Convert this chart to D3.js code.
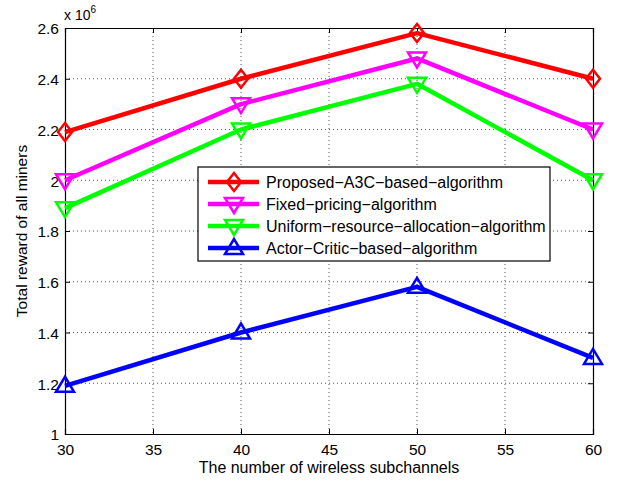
<!DOCTYPE html>
<html>
<head>
<meta charset="utf-8">
<script src="https://cdn.jsdelivr.net/npm/d3@7"></script>
<style>
  body { margin: 0; background: #fff; }
  svg { font-family: "Liberation Sans", Arial, sans-serif; }
</style>
</head>
<body>
<svg id="chart" width="618" height="483"></svg>
<script>
// data (reward in units of 1e6)
const channels = [30, 40, 50, 60];
const proposedA3C = [2.19, 2.40, 2.58, 2.40];
const fixedPricing = [2.00, 2.30, 2.48, 2.20];
const uniformAlloc = [1.89, 2.20, 2.38, 2.00];
const actorCritic = [1.19, 1.40, 1.58, 1.30];
const seriesNames = [
  "Proposed\u2212A3C\u2212based\u2212algorithm",
  "Fixed\u2212pricing\u2212algorithm",
  "Uniform\u2212resource\u2212allocation\u2212algorithm",
  "Actor\u2212Critic\u2212based\u2212algorithm"
];
const xTicks = [30, 35, 40, 45, 50, 55, 60];
const yTicks = [1, 1.2, 1.4, 1.6, 1.8, 2, 2.2, 2.4, 2.6];

const margin = {top: 28, right: 25, bottom: 49, left: 65};
const width = 618 - margin.left - margin.right;
const height = 483 - margin.top - margin.bottom;

const svg = d3.select("#chart");
const g = svg.append("g")
  .attr("transform", "translate(" + margin.left + "," + margin.top + ")");

const x = d3.scaleLinear().domain([30, 60]).range([0, width]);
const y = d3.scaleLinear().domain([1, 2.6]).range([height, 0]);

// grid
g.append("g").selectAll("line").data(xTicks.slice(1, -1)).enter().append("line")
  .attr("x1", d => x(d)).attr("x2", d => x(d))
  .attr("y1", 0).attr("y2", height)
  .attr("stroke", "#555").attr("stroke-width", 1).attr("stroke-dasharray", "1,3");
g.append("g").selectAll("line").data(yTicks.slice(1, -1)).enter().append("line")
  .attr("y1", d => y(d)).attr("y2", d => y(d))
  .attr("x1", 0).attr("x2", width)
  .attr("stroke", "#555").attr("stroke-width", 1).attr("stroke-dasharray", "1,3");

// axes, ticks pointing inward
const fmtY = d => String(+d.toFixed(1));
const xAxis = g.append("g").attr("transform", "translate(0," + height + ")")
  .call(d3.axisBottom(x).tickValues(xTicks).tickSize(-5).tickPadding(10));
const xTop = g.append("g")
  .call(d3.axisTop(x).tickValues(xTicks).tickSize(-5).tickFormat(""));
const yAxis = g.append("g")
  .call(d3.axisLeft(y).tickValues(yTicks).tickSize(-5).tickPadding(6).tickFormat(fmtY));
const yRight = g.append("g").attr("transform", "translate(" + width + ",0)")
  .call(d3.axisRight(y).tickValues(yTicks).tickSize(-5).tickFormat(""));

[xAxis, xTop, yAxis, yRight].forEach(a => {
  a.select(".domain").attr("stroke", "#000").attr("stroke-width", 1.2);
  a.selectAll(".tick line").attr("stroke", "#000");
  a.selectAll("text").attr("font-size", 15.5).attr("fill", "#000")
    .attr("font-family", "Liberation Sans, Arial, sans-serif");
});
yAxis.selectAll("text").attr("dy", "0.38em");

// exponent label
g.append("text").attr("x", -1).attr("y", -8)
  .attr("font-size", 14).text("x 10")
  .append("tspan").attr("dy", -7).attr("font-size", 10).text("6");

// series
const series = [
  {values: proposedA3C, color: "#ff0000", marker: "diamond"},
  {values: fixedPricing, color: "#ff00ff", marker: "down"},
  {values: uniformAlloc, color: "#00ff00", marker: "down"},
  {values: actorCritic, color: "#0000ff", marker: "up"}
];

function markerPath(type) {
  if (type === "diamond") return "M0,-9L7,0L0,9L-7,0Z";
  if (type === "down") return "M-9,-6L9,-6L0,9Z";
  return "M-9,6L9,6L0,-9Z";
}

const line = d3.line().x((d, i) => x(channels[i])).y(d => y(d));

series.forEach(s => {
  g.append("path").datum(s.values)
    .attr("d", line)
    .attr("fill", "none").attr("stroke", s.color).attr("stroke-width", 4.5)
    .attr("stroke-linejoin", "round");
  g.append("g").selectAll("path").data(s.values).enter().append("path")
    .attr("transform", (d, i) => "translate(" + x(channels[i]) + "," + y(d) + ")")
    .attr("d", markerPath(s.marker))
    .attr("fill", "none").attr("stroke", s.color).attr("stroke-width", 2.5);
});

// legend
const legend = svg.append("g").attr("transform", "translate(198,167)");
legend.append("rect").attr("width", 352).attr("height", 94)
  .attr("fill", "#fff").attr("stroke", "#000").attr("stroke-width", 1.2);
const rowY = [15, 37, 59, 81];
series.forEach((s, i) => {
  const row = legend.append("g").attr("transform", "translate(0," + rowY[i] + ")");
  row.append("line").attr("x1", 10).attr("x2", 61)
    .attr("stroke", s.color).attr("stroke-width", 4.5);
  row.append("path").attr("transform", "translate(36,0)")
    .attr("d", markerPath(s.marker))
    .attr("fill", "none").attr("stroke", s.color).attr("stroke-width", 2.5);
  row.append("text").attr("x", 68).attr("y", 6)
    .attr("font-size", 16).text(seriesNames[i]);
});

// axis titles
svg.append("text").attr("x", margin.left + width / 2).attr("y", 473)
  .attr("text-anchor", "middle").attr("font-size", 16)
  .text("The number of wireless subchannels");
svg.append("text")
  .attr("transform", "translate(27," + (margin.top + height / 2) + ") rotate(-90)")
  .attr("text-anchor", "middle").attr("font-size", 15.5)
  .text("Total reward of all miners");
</script>
</body>
</html>
